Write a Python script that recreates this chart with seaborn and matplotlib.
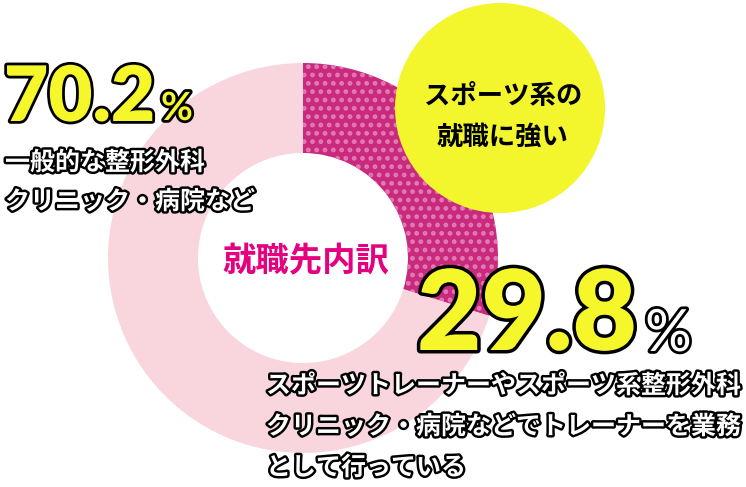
import seaborn as sns
import matplotlib.pyplot as plt
import matplotlib.patheffects as pe
from matplotlib.patches import Circle

# 就職先内訳
shares = [29.8, 70.2]
share_labels = ["29.8", "70.2"]
share_colors = ["#C92A7D", "#F9D6DE"]
desc_sports = ["スポーツトレーナーやスポーツ系整形外科",
               "クリニック・病院などでトレーナーを業務",
               "として行っている"]
desc_general = ["一般的な整形外科", "クリニック・病院など"]
center_title = "就職先内訳"
badge_lines = ["スポーツ系の", "就職に強い"]

sns.set_theme(style="white")
plt.rcParams['font.family'] = ['Noto Sans CJK JP', 'DejaVu Sans']
plt.rcParams['hatch.linewidth'] = 2.2

W, H = 746, 487
fig = plt.figure(figsize=(W / 100, H / 100), dpi=100)
ax = fig.add_axes([0, 0, 1, 1])
ax.set_xlim(0, W)
ax.set_ylim(0, H)
ax.set_aspect('equal')
ax.axis('off')


def py(y):
    return H - y


wedges, _ = ax.pie(shares, colors=share_colors, startangle=90, counterclock=False,
                   radius=195, center=(303, py(258)),
                   wedgeprops=dict(width=90, linewidth=0))
ax.set_xlim(0, W)
ax.set_ylim(0, H)
wedges[0].set_hatch('..')
wedges[0].set_edgecolor("#E27CB3")

ax.add_patch(Circle((500, py(108)), 105, color="#F3F62C", zorder=3, linewidth=0))

ax.text(306, py(262), center_title, color="#E4007F", fontsize=24, fontweight='bold',
        ha='center', va='center', zorder=4)
for i, line in enumerate(badge_lines):
    ax.text(503, py(97 + 40 * i), line, color="black", fontsize=19, fontweight='bold',
            ha='center', va='center', zorder=4)

outline = [pe.withStroke(linewidth=4, foreground="black")]
thin = [pe.withStroke(linewidth=3.5, foreground="black")]
num_font = ['Lato', 'DejaVu Sans']

ax.text(4, py(121), share_labels[1], color="#F5F72A", fontsize=55, fontweight='heavy',
        family=num_font, ha='left', va='baseline', path_effects=outline, zorder=5)
ax.text(161, py(120), "%", color="#F5F72A", fontsize=28, fontweight='bold',
        family=num_font, ha='left', va='baseline', path_effects=outline, zorder=5)
for i, line in enumerate(desc_general):
    ax.text(5, py(163 + 39 * i), line, color="white", fontsize=18, fontweight='bold',
            ha='left', va='center', path_effects=thin, zorder=5)

ax.text(417, py(350), share_labels[0], color="#F5F72A", fontsize=80, fontweight='heavy',
        family=num_font, ha='left', va='baseline',
        path_effects=[pe.withStroke(linewidth=5, foreground="black")], zorder=5)
ax.text(645, py(351), "%", color="white", fontsize=42, fontweight='regular',
        family=num_font, ha='left', va='baseline',
        path_effects=[pe.withStroke(linewidth=4, foreground="black")], zorder=5)
for i, line in enumerate(desc_sports):
    ax.text(266, py(386 + 41 * i), line, color="white", fontsize=18, fontweight='bold',
            ha='left', va='center', path_effects=thin, zorder=5)

fig.savefig("out.png", dpi=100)
